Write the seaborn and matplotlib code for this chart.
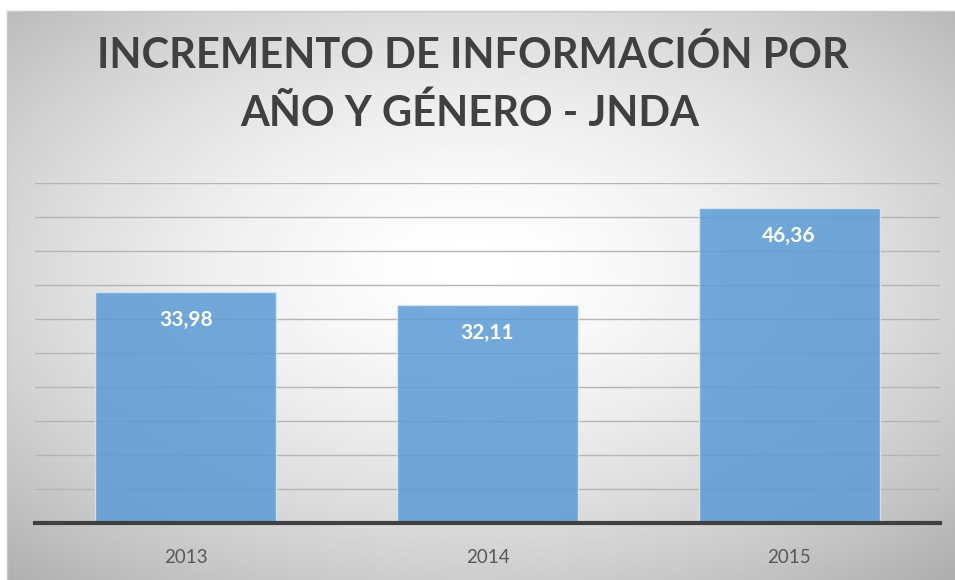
import numpy as np
import pandas as pd
import matplotlib.pyplot as plt
import seaborn as sns

# data
years = ["2013", "2014", "2015"]
values = [33.98, 32.11, 46.36]
value_labels = ["33,98", "32,11", "46,36"]
title_lines = ["INCREMENTO DE INFORMACIÓN POR", "AÑO Y GÉNERO - JNDA"]

sns.set_theme(style="white")
plt.rcParams['font.family'] = ['Lato', 'DejaVu Sans']

W, H = 955, 580
fig = plt.figure(figsize=(W / 100, H / 100), dpi=100)
fig.patch.set_facecolor("white")

# radial gradient background of the chart area
bg = fig.add_axes([7 / W, 0, (W - 7) / W, (H - 11) / H], zorder=0)
gx, gy = np.meshgrid(np.linspace(0, 1, 400), np.linspace(0, 1, 250))
r = np.sqrt(((gx - 0.49) / 0.72) ** 2 + ((gy - 0.55) / 0.72) ** 2)
shade = np.clip(1 - 0.30 * r ** 1.6, 0, 1)
bg.imshow(shade, cmap="gray", vmin=0, vmax=1, aspect="auto",
          extent=[0, 1, 0, 1], origin="lower")
bg.set_axis_off()
fig.add_artist(plt.Line2D([7 / W, 7 / W], [0, (H - 11) / H], color="#c8c8c8", lw=1))
fig.add_artist(plt.Line2D([7 / W, 1], [(H - 11) / H, (H - 11) / H], color="#c8c8c8", lw=1))

ax = fig.add_axes([35 / W, 1 - 523 / H, 905 / W, (523 - 183) / H], zorder=1)
ax.patch.set_alpha(0)

df = pd.DataFrame({"year": years, "value": values})
sns.barplot(data=df, x="year", y="value", color="#5B9BD5", width=0.6,
            saturation=1, alpha=0.85, edgecolor="#dbe8f5", linewidth=1,
            ax=ax, zorder=2)

ax.set_ylim(0, 50)
ax.set_yticks(np.arange(5, 51, 5))
ax.yaxis.grid(True, color="#b5b5b5", linewidth=1)
ax.set_axisbelow(True)
ax.tick_params(axis="y", left=False, labelleft=False)
ax.tick_params(axis="x", bottom=False, labelsize=13.5, colors="#595959", pad=13)
ax.set_xlabel("")
ax.set_ylabel("")
for s in ["top", "right", "left"]:
    ax.spines[s].set_visible(False)
ax.spines["bottom"].set_color("#404040")
ax.spines["bottom"].set_linewidth(3)

for i, (v, lab) in enumerate(zip(values, value_labels)):
    ax.annotate(lab, (i, v), xytext=(0, -28), textcoords="offset pixels",
                ha="center", va="center", color="white",
                fontsize=15, fontweight="bold", zorder=3)

fig.text(473 / W, 1 - 55 / H, title_lines[0], ha="center", va="center",
         fontsize=30, fontweight="bold", color="#404040")
fig.text(470 / W, 1 - 113 / H, title_lines[1], ha="center", va="center",
         fontsize=30, fontweight="bold", color="#404040")

fig.savefig("out.png", dpi=100)
